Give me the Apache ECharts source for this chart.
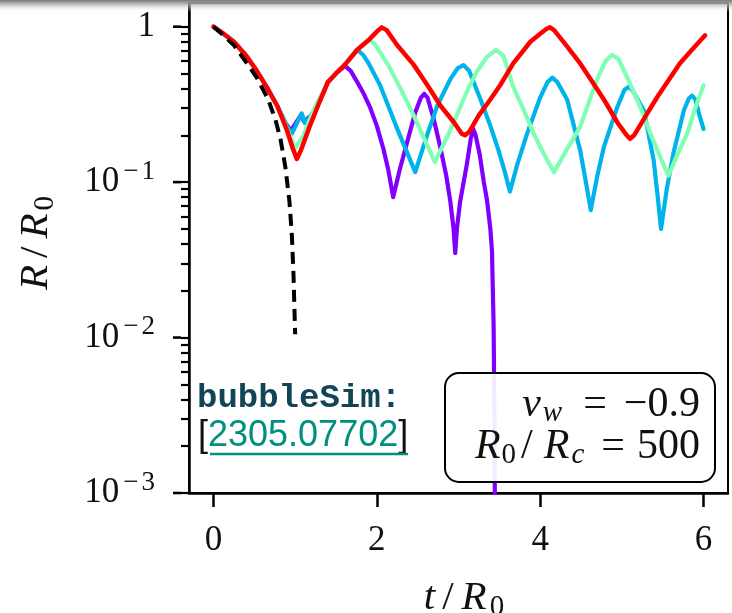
<!DOCTYPE html>
<html>
<head>
<meta charset="utf-8">
<script src="https://cdn.jsdelivr.net/npm/echarts@6/dist/echarts.min.js"></script>
<style>
  html, body { margin: 0; padding: 0; background: #ffffff; }
  #main { width: 732px; height: 613px; }
</style>
</head>
<body>
<div id="main"></div>
<script>
// Bubble radius R/R0 versus time t/R0 for several runs (log scale)
const tPurple = [0, 0.1, 0.25, 0.4, 0.53, 0.65, 0.78, 0.88, 0.95, 1.07, 1.11, 1.2, 1.3, 1.4, 1.5, 1.61, 1.68, 1.75, 1.84, 1.92, 2.0, 2.08, 2.14, 2.2, 2.28, 2.37, 2.47, 2.54, 2.58, 2.62, 2.7, 2.78, 2.85, 2.9, 2.94, 2.96, 2.98, 3.02, 3.1, 3.15, 3.18, 3.21, 3.26, 3.31, 3.35, 3.39, 3.41, 3.43, 3.44, 3.45];
const rPurple = [1, 0.92, 0.8, 0.65, 0.52, 0.41, 0.31, 0.24, 0.215, 0.27, 0.245, 0.27, 0.33, 0.44, 0.5, 0.56, 0.52, 0.45, 0.37, 0.30, 0.23, 0.164, 0.12, 0.08, 0.12, 0.18, 0.28, 0.35, 0.37, 0.35, 0.25, 0.165, 0.11, 0.075, 0.05, 0.035, 0.05, 0.075, 0.128, 0.19, 0.22, 0.2, 0.15, 0.1, 0.076, 0.05, 0.036, 0.012, 0.003, 0.0003];

const tBlue = [0, 0.1, 0.25, 0.4, 0.53, 0.65, 0.78, 0.88, 0.96, 1.08, 1.12, 1.2, 1.3, 1.4, 1.5, 1.61, 1.76, 1.83, 1.9, 2.04, 2.15, 2.25, 2.36, 2.47, 2.6, 2.74, 2.9, 2.99, 3.06, 3.13, 3.27, 3.39, 3.49, 3.57, 3.63, 3.72, 3.84, 4.0, 4.09, 4.15, 4.21, 4.33, 4.49, 4.56, 4.62, 4.7, 4.78, 4.94, 5.03, 5.08, 5.13, 5.27, 5.39, 5.44, 5.48, 5.55, 5.63, 5.76, 5.82, 5.86, 5.9, 5.95, 6.0];
const rBlue = [1, 0.92, 0.8, 0.65, 0.52, 0.41, 0.31, 0.24, 0.205, 0.277, 0.24, 0.27, 0.33, 0.44, 0.5, 0.57, 0.71, 0.66, 0.58, 0.42, 0.3, 0.22, 0.16, 0.116, 0.19, 0.31, 0.46, 0.54, 0.566, 0.52, 0.34, 0.23, 0.16, 0.115, 0.087, 0.13, 0.205, 0.35, 0.44, 0.47, 0.44, 0.34, 0.16, 0.1, 0.066, 0.11, 0.168, 0.30, 0.39, 0.41, 0.39, 0.29, 0.138, 0.08, 0.05, 0.09, 0.152, 0.29, 0.345, 0.36, 0.34, 0.27, 0.22];

const tGreen = [0, 0.1, 0.25, 0.4, 0.53, 0.65, 0.78, 0.9, 1.0, 1.1, 1.25, 1.4, 1.5, 1.61, 1.76, 1.9, 1.97, 2.14, 2.3, 2.45, 2.6, 2.71, 2.85, 2.98, 3.1, 3.22, 3.35, 3.46, 3.55, 3.67, 3.8, 3.92, 4.05, 4.17, 4.32, 4.49, 4.69, 4.8, 4.88, 4.96, 5.1, 5.23, 5.35, 5.47, 5.57, 5.68, 5.8, 5.9, 6.0];
const rGreen = [1, 0.92, 0.8, 0.65, 0.52, 0.41, 0.31, 0.22, 0.165, 0.2, 0.31, 0.44, 0.5, 0.57, 0.71, 0.82, 0.78, 0.566, 0.39, 0.27, 0.18, 0.135, 0.19, 0.27, 0.38, 0.51, 0.64, 0.71, 0.65, 0.41, 0.29, 0.205, 0.15, 0.116, 0.16, 0.227, 0.45, 0.6, 0.66, 0.62, 0.43, 0.3, 0.205, 0.145, 0.11, 0.15, 0.205, 0.3, 0.42];

const tRed = [0, 0.1, 0.25, 0.4, 0.53, 0.65, 0.78, 0.9, 0.97, 1.02, 1.07, 1.18, 1.3, 1.4, 1.5, 1.61, 1.76, 1.9, 2.0, 2.06, 2.12, 2.25, 2.45, 2.62, 2.78, 2.95, 3.04, 3.08, 3.13, 3.25, 3.39, 3.51, 3.67, 3.88, 4.0, 4.08, 4.12, 4.17, 4.3, 4.49, 4.64, 4.78, 4.95, 5.06, 5.1, 5.15, 5.28, 5.43, 5.57, 5.71, 5.87, 6.02];
const rRed = [1, 0.92, 0.8, 0.65, 0.52, 0.41, 0.31, 0.215, 0.165, 0.141, 0.16, 0.23, 0.33, 0.44, 0.5, 0.57, 0.71, 0.82, 0.93, 0.99, 0.95, 0.76, 0.57, 0.42, 0.31, 0.24, 0.205, 0.2, 0.21, 0.27, 0.34, 0.42, 0.58, 0.80, 0.9, 0.97, 0.99, 0.95, 0.78, 0.58, 0.44, 0.34, 0.24, 0.2, 0.19, 0.2, 0.26, 0.35, 0.45, 0.58, 0.72, 0.88];

// Free collapse reference curve (dashed)
const tCollapse = [0, 0.1, 0.25, 0.43, 0.53, 0.67, 0.76, 0.82, 0.88, 0.93, 0.96, 0.98, 0.99, 1.0];
const rCollapse = [1, 0.9, 0.76, 0.56, 0.47, 0.34, 0.25, 0.19, 0.125, 0.075, 0.045, 0.025, 0.016, 0.0105];

const xTicks = [0, 2, 4, 6];
const yMajorTicks = [0.001, 0.01, 0.1, 1];
const yMinorTicks = [0.002, 0.003, 0.004, 0.005, 0.006, 0.007, 0.008, 0.009,
                     0.02, 0.03, 0.04, 0.05, 0.06, 0.07, 0.08, 0.09,
                     0.2, 0.3, 0.4, 0.5, 0.6, 0.7, 0.8, 0.9];

const SERIF = "'Liberation Serif', 'DejaVu Serif', serif";
const INK = '#111';
const X_MIN = -0.3, X_MAX = 6.3;
const Y_MIN = 0.001, Y_MAX = 1.42;
const zip = (ts, rs) => ts.map((t, i) => [t, rs[i]]);

const curveSeries = (data, color, extra) => Object.assign({
  type: 'line',
  data: data,
  showSymbol: false,
  symbol: 'none',
  lineStyle: { color: color, width: 4.2, cap: 'round', join: 'round' },
  emphasis: { disabled: true },
  z: 3
}, extra || {});

// rich styles for the axis titles (italic symbols, upright slash, subscripts)
const titleRich = {
  i: { fontFamily: SERIF, fontStyle: 'italic', fontSize: 41, fill: INK, lineHeight: 48 },
  sl: { fontFamily: SERIF, fontSize: 41, fill: INK, lineHeight: 48, padding: [0, 8, 0, 7] },
  sub: { fontFamily: SERIF, fontSize: 29, fill: INK, lineHeight: 30, verticalAlign: 'bottom', padding: [0, 0, 0, 3] }
};

const boxRich = {
  i: { fontFamily: SERIF, fontStyle: 'italic', fontSize: 42, fill: INK, lineHeight: 46 },
  n: { fontFamily: SERIF, fontSize: 42, fill: INK, lineHeight: 46 },
  sl: { fontFamily: SERIF, fontSize: 42, fill: INK, lineHeight: 46, padding: [0, 11, 0, 5] },
  eq1: { fontFamily: SERIF, fontSize: 42, fill: INK, lineHeight: 46, padding: [0, 17, 0, 21] },
  eq2: { fontFamily: SERIF, fontSize: 42, fill: INK, lineHeight: 46, padding: [0, 12, 0, 17] },
  sub: { fontFamily: SERIF, fontSize: 29, fill: INK, lineHeight: 28, verticalAlign: 'bottom', padding: [0, 0, 0, 1] },
  subi: { fontFamily: SERIF, fontStyle: 'italic', fontSize: 29, fill: INK, lineHeight: 28, verticalAlign: 'bottom', padding: [0, 0, 0, 2] }
};

const chart = echarts.init(document.getElementById('main'), null, { renderer: 'canvas', width: 732, height: 613 });

const option = {
  animation: false,
  backgroundColor: '#ffffff',
  grid: {
    left: 189, right: 4, top: 3, bottom: 120,
    containLabel: false,
    outerBoundsMode: 'none',
    show: true,
    borderColor: '#000',
    borderWidth: 2,
    backgroundColor: 'transparent'
  },
  xAxis: {
    type: 'value',
    min: X_MIN,
    max: X_MAX,
    position: 'bottom',
    splitLine: { show: false },
    axisLine: { show: true, onZero: false, lineStyle: { color: '#000', width: 2.5 } },
    axisTick: { show: true, inside: false, length: 14, customValues: xTicks, lineStyle: { color: '#000', width: 2.5 } },
    axisLabel: {
      customValues: xTicks,
      margin: 30,
      fontFamily: SERIF, fontSize: 35, color: INK,
      formatter: v => String(v)
    }
  },
  yAxis: {
    type: 'log',
    logBase: 10,
    min: Y_MIN,
    max: Y_MAX,
    position: 'left',
    splitLine: { show: false },
    minorTick: { show: false },
    axisLine: { show: true, onZero: false, lineStyle: { color: '#000', width: 2.5 } },
    // short ticks at every decade and at 2..9 within each decade
    axisTick: {
      show: true, inside: false, length: 8,
      customValues: yMajorTicks.concat(yMinorTicks),
      lineStyle: { color: '#000', width: 2.2 }
    },
    // decade labels; the trailing bar lengthens the tick at each decade
    axisLabel: {
      customValues: yMajorTicks,
      margin: 8,
      formatter: function (v) {
        const e = Math.round(Math.log10(v));
        const head = e === 0 ? '{b|1}' : '{b|10}{m|\u2212}{s|' + Math.abs(e) + '}';
        return head + '{gap|}{bar|}';
      },
      rich: {
        b: { fontFamily: SERIF, fontSize: 35, color: INK, lineHeight: 48 },
        m: { fontFamily: SERIF, fontSize: 27, color: INK, lineHeight: 26, verticalAlign: 'top', padding: [0, 3, 0, 4] },
        s: { fontFamily: SERIF, fontSize: 27, color: INK, lineHeight: 26, verticalAlign: 'top' },
        gap: { width: 18, height: 2, lineHeight: 2, verticalAlign: 'middle' },
        bar: { width: 8, height: 2.6, lineHeight: 2.6, backgroundColor: '#000', verticalAlign: 'middle' }
      }
    }
  },
  series: [
    curveSeries(zip(tPurple, rPurple), '#8000ff'),
    curveSeries(zip(tBlue, rBlue), '#00b4eb'),
    curveSeries(zip(tGreen, rGreen), '#80ffb4'),
    curveSeries(zip(tRed, rRed), '#ff0000', { lineStyle: { color: '#ff0000', width: 4.5, cap: 'round', join: 'round' } }),
    curveSeries(zip(tCollapse, rCollapse), '#000000', {
      lineStyle: { color: '#000', width: 4, type: [12, 7], cap: 'butt', join: 'round' },
      z: 4
    })
  ],
  graphic: [
    {
      // y axis title
      type: 'text',
      z: 100,
      x: 36,
      y: 243,
      rotation: Math.PI / 2,
      style: { text: '{i|R}{sl|/}{i|R}{sub|0}', align: 'center', verticalAlign: 'middle', rich: titleRich }
    },
    {
      // x axis title
      type: 'text',
      z: 100,
      x: 464,
      y: 598,
      style: { text: '{i|t}{sl|/}{i|R}{sub|0}', align: 'center', verticalAlign: 'middle', rich: titleRich }
    },
    {
      type: 'text',
      z: 100,
      left: 197,
      top: 381,
      style: {
        text: 'bubbleSim:',
        fontFamily: "'Liberation Mono', 'DejaVu Sans Mono', monospace",
        fontWeight: 'bold',
        fontSize: 34,
        fill: '#114455'
      }
    },
    {
      type: 'text',
      z: 100,
      left: 198,
      top: 418,
      style: {
        text: '{br|[}{lk|2305.07702}{br|]}',
        rich: {
          br: { fontFamily: "'Liberation Sans', Arial, sans-serif", fontSize: 36, fill: INK },
          lk: { fontFamily: "'Liberation Sans', Arial, sans-serif", fontSize: 36, fill: '#00907e' }
        }
      }
    },
    {
      type: 'line',
      z: 100,
      shape: { x1: 210, y1: 454, x2: 408, y2: 454 },
      style: { stroke: '#00907e', lineWidth: 2.5 }
    },
    {
      type: 'rect',
      z: 100,
      shape: { x: 445, y: 373, width: 270, height: 109, r: 14 },
      style: { fill: 'rgba(255,255,255,0.92)', stroke: '#000', lineWidth: 2 }
    },
    {
      type: 'text',
      z: 101,
      x: 700,
      y: 405,
      style: { text: '{i|v}{subi|w}{eq1|=}{n|\u22120.9}', align: 'right', verticalAlign: 'middle', rich: boxRich }
    },
    {
      type: 'text',
      z: 101,
      x: 700,
      y: 447,
      style: { text: '{i|R}{sub|0}{sl|/}{i|R}{subi|c}{eq2|=}{n|500}', align: 'right', verticalAlign: 'middle', rich: boxRich }
    },
    {
      // soft shadow band along the top edge
      type: 'rect',
      z: 200,
      shape: { x: 0, y: 0, width: 732, height: 12 },
      style: {
        fill: new echarts.graphic.LinearGradient(0, 0, 0, 1, [
          { offset: 0, color: 'rgba(120,120,120,1)' },
          { offset: 0.3, color: 'rgba(165,165,165,0.85)' },
          { offset: 1, color: 'rgba(255,255,255,0)' }
        ])
      }
    }
  ]
};

chart.setOption(option);
</script>
</body>
</html>
